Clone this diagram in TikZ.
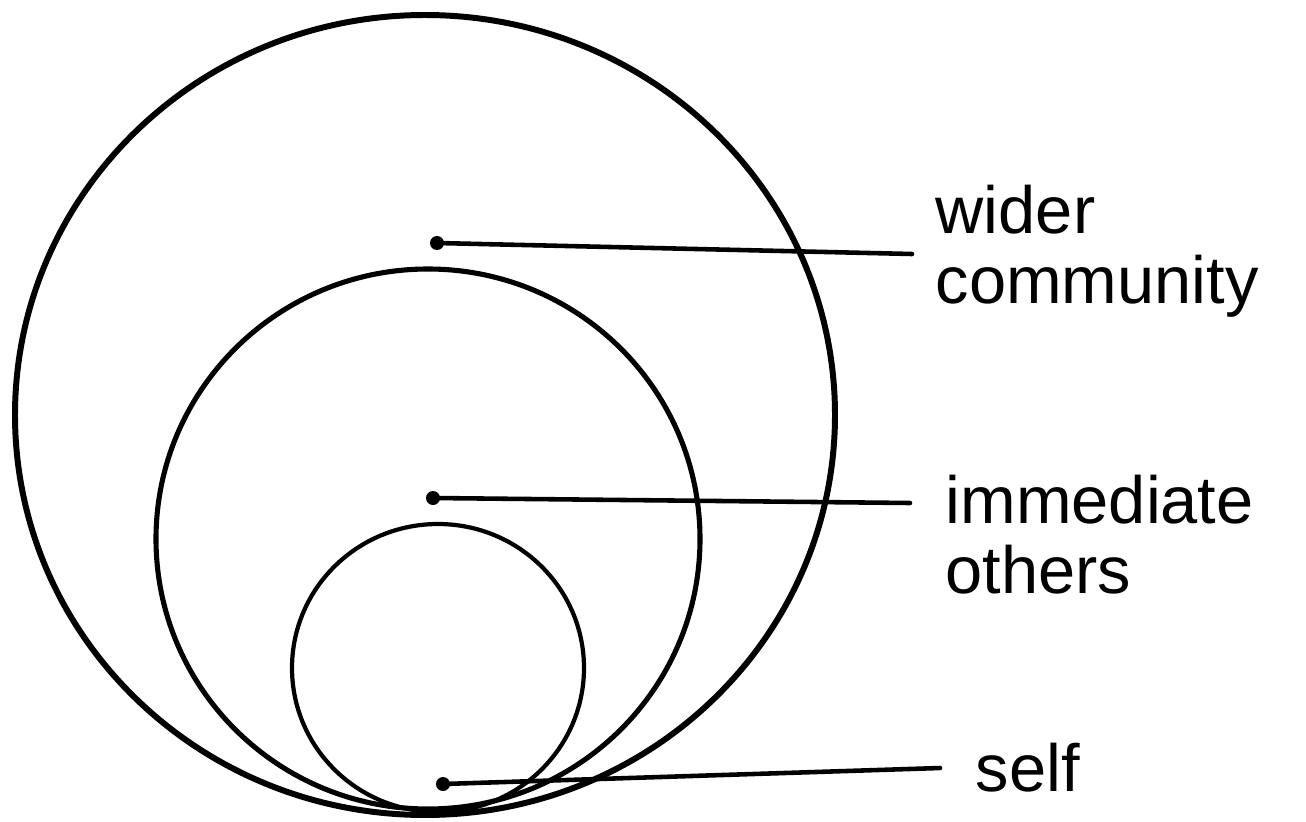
\documentclass[tikz,border=0pt]{standalone}
\usepackage{fontspec}
\setmainfont{Liberation Sans}
\tikzset{
  ring/.style={line width=1.2pt},
  dot/.style={circle, fill, inner sep=0pt, minimum size=0.14cm},
  leader/.style={line width=1.3pt, line cap=round},
  tag/.style={anchor=north west, inner sep=0pt, align=left, font=\fontsize{19}{20}\selectfont}
}
\begin{document}
\begin{tikzpicture}[x=0.1mm, y=-0.1mm]
  % Canvas
  \useasboundingbox (0,0) rectangle (1306,822);

  % The three nested circles, all touching at the bottom
  \draw[ring, line width=1.7pt] (425,415) ellipse [x radius=410, y radius=400];
  \draw[ring, line width=1.45pt] (428,539) ellipse [x radius=272, y radius=270];
  \draw[ring] (438,668) ellipse [x radius=146, y radius=144];

  % Dots inside each circle
  \node[dot] (dotWider) at (437,243) {};
  \node[dot] (dotOthers) at (433,498) {};
  \node[dot] (dotSelf) at (443,784) {};

  % Labels
  \node[tag] (wider) at (935,184) {wider\\community};
  \node[tag] (others) at (945,474) {immediate\\others};
  \node[tag] (self) at (975,742) {self};

  % Leader lines
  \coordinate (widerEnd) at (912,254);
  \coordinate (othersEnd) at (910,503);
  \coordinate (selfEnd) at (940,768);
  \draw[leader] (dotWider.center) -- (widerEnd);
  \draw[leader] (dotOthers.center) -- (othersEnd);
  \draw[leader] (dotSelf.center) -- (selfEnd);

\end{tikzpicture}
\end{document}
